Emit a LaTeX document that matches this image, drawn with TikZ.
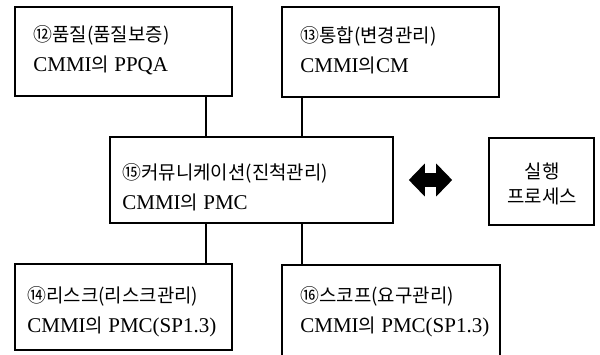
\documentclass[tikz,border=0pt]{standalone}
\usepackage{fontspec}
\setmainfont{Liberation Serif}
\newfontfamily\kr[Scale=0.9]{Noto Sans CJK KR}
\usetikzlibrary{arrows.meta}

\begin{document}
\begin{tikzpicture}[x=0.5pt, y=-0.5pt]
    \tikzstyle{every node} = [font=\fontsize{10.5}{15}\selectfont]
    \tikzstyle{box} = [draw, line width=0.8pt, inner sep=0pt]
    \tikzstyle{txt} = [align=left, anchor=west, inner sep=0pt]
    \tikzstyle{link} = [line width=0.8pt]
    \tikzstyle{both} = [line width=7pt, {Triangle[length=8pt,width=16pt]}-{Triangle[length=8pt,width=16pt]}]
    \useasboundingbox (0,0) rectangle (600,354);
    \clip (0,0) rectangle (600,354);
    \node (b12) [box, minimum width=108.5pt, minimum height=44.5pt] at (123.5, 51.5) {};
    \node (b13) [box, minimum width=108.5pt, minimum height=45pt] at (390.5, 52) {};
    \node (b15) [box, minimum width=141.5pt, minimum height=43pt] at (251.5, 180) {};
    \node (run) [box, minimum width=52.5pt, minimum height=43.5pt] at (541.5, 181.5) {};
    \node (b14) [box, minimum width=108.5pt, minimum height=43pt] at (123.5, 307) {};
    \node (b16) [box, minimum width=109pt, minimum height=49.5pt] at (391, 314.5) {};
    \node (t12) [txt] at (33, 50) {{\kr ⑫품질(품질보증)}\\CMMI{\kr 의} PPQA};
    \node (t13) [txt] at (300, 50.5) {{\kr ⑬통합(변경관리)}\\CMMI{\kr 의}CM};
    \node (t15) [txt] at (122, 187) {{\kr ⑮커뮤니케이션(진척관리)}\\CMMI{\kr 의} PMC};
    \node (t14) [txt] at (27, 312) {{\kr ⑭리스크(리스크관리)}\\CMMI{\kr 의} PMC(SP1.3)};
    \node (t16) [txt] at (300, 311.5) {{\kr ⑯스코프(요구관리)}\\CMMI{\kr 의} PMC(SP1.3)};
    \node (trun) [align=center, inner sep=0pt, font=\fontsize{10.5}{12.5}\kr] at (542, 183.5) {실행\\프로세스};
    \coordinate (cl) at (206, 0);
    \coordinate (cr) at (302, 0);
      \draw [link] (b12.south -| cl) -- (b15.north -| cl);
      \draw [link] (b13.south -| cr) -- (b15.north -| cr);
      \draw [link] (b15.south -| cl) -- (b14.north -| cl);
      \draw [link] (b15.south -| cr) -- (b16.north -| cr);
      \draw [both, shorten <=7.5pt, shorten >=18pt] (b15.east) -- (b15.east -| run.west);
  \end{tikzpicture}
\end{document}
